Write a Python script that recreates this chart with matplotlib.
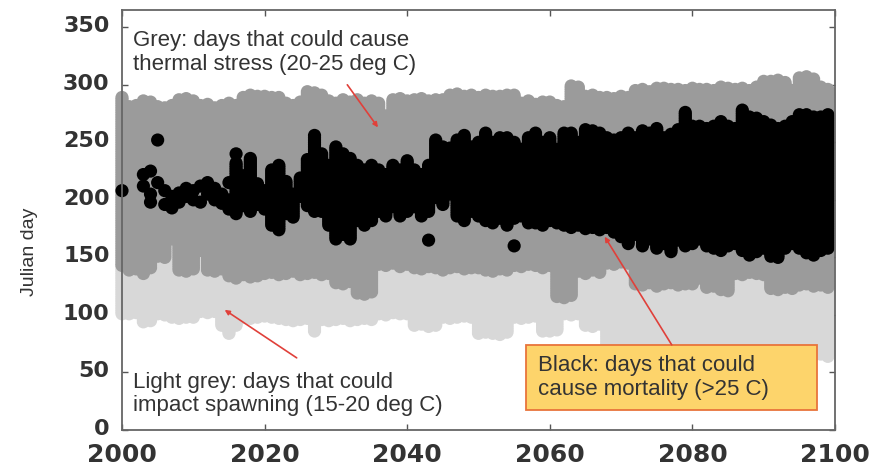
import numpy as np
import matplotlib
matplotlib.use("Agg")
import matplotlib.pyplot as plt
import matplotlib.transforms as mtransforms
from matplotlib.patches import Rectangle

# ---------------- data (Julian day ranges per year) ----------------
years = np.arange(2000, 2100)

grey_hi = [290, 281, 282, 286, 286, 281, 280, 282, 288, 288,
           287, 282, 283, 281, 282, 284, 283, 290, 291, 290,
           291, 289, 290, 284, 283, 285, 294, 293, 292, 286,
           285, 287, 286, 288, 285, 287, 284, 274, 287, 288,
           286, 287, 288, 286, 287, 288, 291, 292, 290, 291,
           290, 292, 291, 290, 292, 291, 285, 286, 284, 286,
           285, 283, 281, 300, 299, 290, 291, 289, 290, 288,
           291, 290, 296, 297, 295, 297, 298, 296, 297, 295,
           297, 296, 297, 296, 298, 297, 296, 297, 296, 298,
           304, 303, 305, 303, 296, 307, 308, 306, 298, 297]

grey_lo = [143, 139, 140, 136, 141, 151, 150, 166, 139, 138,
           140, 156, 139, 138, 140, 134, 132, 135, 133, 134,
           136, 137, 135, 136, 138, 135, 136, 137, 135, 136,
           128, 127, 129, 119, 118, 120, 144, 143, 145, 142,
           144, 141, 140, 142, 141, 139, 141, 142, 140, 141,
           141, 139, 138, 140, 139, 143, 142, 144, 143, 141,
           143, 116, 115, 117, 138, 136, 139, 137, 145, 144,
           146, 145, 127, 126, 128, 125, 127, 128, 126, 127,
           127, 132, 124, 125, 122, 121, 136, 135, 137, 136,
           135, 123, 122, 124, 123, 126, 127, 125, 126, 124]

light_lo = [101, 101, 102, 94, 95, 101, 100, 98, 97, 98,
            98, 103, 102, 103, 91, 84, 91, 98, 97, 98,
            99, 98, 97, 96, 95, 96, 97, 86, 96, 95,
            96, 97, 95, 96, 97, 96, 101, 100, 102, 101,
            101, 91, 92, 90, 91, 98, 97, 98, 99, 98,
            84, 85, 84, 83, 85, 98, 97, 98, 99, 86,
            86, 87, 101, 100, 101, 91, 90, 92, 72, 70,
            71, 69, 70, 68, 71, 70, 69, 70, 72, 70,
            69, 70, 68, 70, 69, 68, 70, 71, 69, 70,
            68, 67, 69, 68, 70, 66, 67, 65, 66, 64]

# contiguous black (>25 C) day ranges, 2016-2099
black_years = np.arange(2016, 2100)
black_lo = [188, 195, 190, 196, 192, 178, 174, 188, 185, 203,
            195, 190, 190, 178, 166, 170, 166, 182, 178, 182,
            190, 186, 194, 186, 190, 194, 186, 190, 202, 196,
            205, 186, 182, 190, 186, 182, 180, 184, 178, 184,
            186, 186, 180, 178, 182, 180, 178, 176, 178, 175,
            176, 174, 176, 172, 168, 162, 170, 160, 166, 158,
            162, 155, 165, 160, 162, 166, 160, 158, 156, 160,
            162, 156, 152, 155, 158, 151, 150, 158, 162, 158,
            154, 152, 156, 158]
black_hi = [232, 222, 236, 215, 208, 226, 230, 216, 205, 220,
            236, 256, 240, 230, 246, 240, 236, 230, 226, 230,
            226, 222, 230, 226, 234, 226, 222, 230, 252, 246,
            246, 252, 256, 246, 250, 258, 250, 255, 255, 250,
            245, 255, 258, 250, 255, 245, 258, 258, 250, 262,
            260, 258, 255, 252, 255, 258, 255, 260, 258, 262,
            255, 258, 262, 276, 265, 265, 262, 265, 268, 265,
            262, 279, 272, 272, 268, 265, 262, 265, 268, 275,
            275, 272, 272, 275]

# isolated black days
pt_year = [2000, 2003, 2003, 2004, 2004, 2004, 2005, 2005, 2006, 2006,
           2007, 2007, 2008, 2008, 2009, 2009, 2010, 2010, 2011, 2011,
           2012, 2012, 2013, 2013, 2014, 2014, 2015, 2015, 2015, 2016,
           2043, 2055, 2057]
pt_day = [208, 222, 212, 225, 205, 198, 252, 215, 208, 196,
          203, 193, 206, 198, 210, 203, 200, 208, 212, 198,
          205, 215, 210, 200, 205, 197, 215, 200, 192, 240,
          165, 160, 180]

x_ticks = [2000, 2020, 2040, 2060, 2080, 2100]
y_ticks = [0, 50, 100, 150, 200, 250, 300, 350]


def columns(xs, lo, hi, step=2):
    X, Y = [], []
    for x, a, b in zip(xs, lo, hi):
        d = np.arange(a, b + 1, step)
        X.extend([x] * len(d))
        Y.extend(d)
    return np.array(X), np.array(Y)


fig = plt.figure(figsize=(8.69, 4.66), dpi=100)
ax = fig.add_axes([122 / 869, 1 - 430 / 466, (835 - 122) / 869, (430 - 10) / 466])

S = 90
lx, ly = columns(years, light_lo, grey_lo)
ax.scatter(lx, ly, s=S, c='#d8d8d8', edgecolors='none', clip_on=False, zorder=2)
gx, gy = columns(years, grey_lo, grey_hi)
ax.scatter(gx, gy, s=S, c='#9b9b9b', edgecolors='none', clip_on=False, zorder=3)
bx, by = columns(black_years, black_lo, black_hi)
ax.scatter(bx, by, s=S, c='black', edgecolors='none', clip_on=False, zorder=4)
ax.scatter(pt_year, pt_day, s=S, c='black', edgecolors='none', clip_on=False, zorder=4)

ax.set_xlim(2000, 2100)
ax.set_ylim(0, 365)
ax.set_xticks(x_ticks)
ax.set_yticks(y_ticks)
ax.set_xticklabels([str(v) for v in x_ticks],
                   fontdict=dict(family='DejaVu Sans', weight='bold', size=18), color='#333333')
ax.set_yticklabels([str(v) for v in y_ticks],
                   fontdict=dict(family='DejaVu Sans', weight='bold', size=16), color='#333333')
ax.tick_params(direction='in', length=4, width=1, top=True, right=True, colors='#555555',
               labelcolor='#333333')
ax.tick_params(axis='y', pad=9)
ax.tick_params(axis='x', pad=9)
shift_up = mtransforms.ScaledTranslation(0, 3 / 100, fig.dpi_scale_trans)
for lab in ax.get_yticklabels():
    lab.set_transform(lab.get_transform() + shift_up)
for sp in ax.spines.values():
    sp.set_color('#666666')
    sp.set_linewidth(1.3)
    sp.set_zorder(6)

fig.text(30 / 869, 1 - 252 / 466, 'Julian day', rotation=90, ha='center', va='center',
         fontsize=14, color='#333333', family=['Liberation Sans Narrow', 'Liberation Sans'])

txt = dict(family=['Liberation Sans', 'DejaVu Sans'], fontsize=16, color='#333333',
           linespacing=1.15, zorder=8)
ax.text(2001.5, 328, 'Grey: days that could cause\nthermal stress (20-25 deg C)',
        ha='left', va='center', **txt)
ax.text(2001.5, 31.3, 'Light grey: days that could\nimpact spawning (15-20 deg C)',
        ha='left', va='center', **txt)

ax.add_patch(Rectangle((2056.7, 17.4), 40.8, 56.6, facecolor='#fdd46b', edgecolor='#e8743b',
                       linewidth=1.3, zorder=7))
ax.text(2058.3, 45.7, 'Black: days that could\ncause mortality (>25 C)',
        ha='left', va='center', **txt)

arrow = dict(arrowstyle='-|>', color='#e0403a', lw=1.2, mutation_scale=7, shrinkA=0, shrinkB=0)
ax.annotate('', xy=(2035.9, 263), xytext=(2031.6, 300), arrowprops=arrow, zorder=8)
ax.annotate('', xy=(2014.4, 104.4), xytext=(2024.5, 62.7), arrowprops=arrow, zorder=8)
ax.annotate('', xy=(2067.7, 168), xytext=(2077.1, 74), arrowprops=arrow, zorder=8)

fig.savefig('out.png', dpi=100)
